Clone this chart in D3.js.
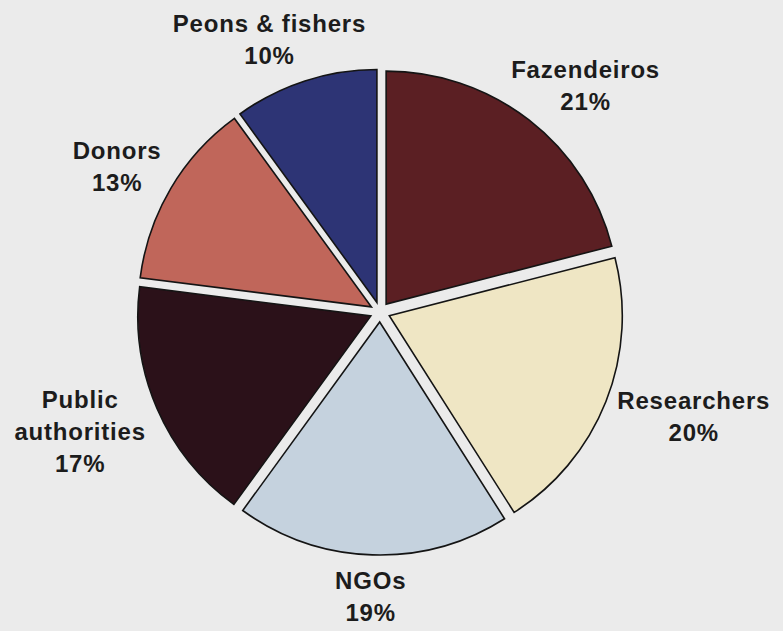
<!DOCTYPE html>
<html>
<head>
<meta charset="utf-8">
<script src="https://cdn.jsdelivr.net/npm/d3@7"></script>
<style>
  html, body { margin: 0; padding: 0; background: #ebebeb; }
  svg { display: block; }
  .lbl { font-family: "Liberation Sans", Arial, sans-serif; font-weight: bold; font-size: 24px; fill: #1c1c1c; letter-spacing: 0.8px; }
</style>
</head>
<body>
<svg id="chart" width="783" height="631"></svg>
<script>
// stakeholder shares, clockwise from 12 o'clock
var categories = ["Fazendeiros", "Researchers", "NGOs", "Public\nauthorities", "Donors", "Peons & fishers"];
var shares = [21, 20, 19, 17, 13, 10];
var colours = ["#5b1f23", "#efe6c4", "#c5d2de", "#2b1119", "#c0665a", "#2d3475"];

var width = 783, height = 631;
var cx = 380, cy = 312;
var radius = 233;
var explode = 10;
var labelPad = 18;
var lineH = 32;
var capH = 17;

var svg = d3.select("#chart");

var pie = d3.pie()
  .sort(null)
  .value(function(d) { return d; });

var arc = d3.arc()
  .innerRadius(0)
  .outerRadius(radius);

var arcs = pie(shares);

var g = svg.append("g").attr("transform", "translate(" + cx + "," + cy + ")");

g.selectAll("path.slice")
  .data(arcs)
  .enter()
  .append("path")
  .attr("class", "slice")
  .attr("d", arc)
  .attr("transform", function(d) {
    var a = (d.startAngle + d.endAngle) / 2;
    return "translate(" + (explode * Math.sin(a)) + "," + (-explode * Math.cos(a)) + ")";
  })
  .style("fill", function(d, i) { return colours[i]; })
  .style("stroke", "#141414")
  .style("stroke-width", 1.6)
  .style("stroke-linejoin", "miter");

// labels sit just outside each slice, pushed out by half their box
var labels = g.selectAll("text.lbl")
  .data(arcs)
  .enter()
  .append("text")
  .attr("class", "lbl")
  .attr("text-anchor", "middle");

labels.each(function(d, i) {
  var t = d3.select(this);
  var lines = categories[i].split("\n").concat([shares[i] + "%"]);
  lines.forEach(function(s, k) {
    t.append("tspan")
      .attr("x", 0)
      .attr("y", (k - (lines.length - 1) / 2) * lineH + 8)
      .text(s);
  });
  var w = 0;
  t.selectAll("tspan").each(function() { w = Math.max(w, this.getComputedTextLength()); });
  var h = (lines.length - 1) * lineH + capH;
  var a = (d.startAngle + d.endAngle) / 2;
  var rr = radius + explode + labelPad;
  var x = rr * Math.sin(a) + (w / 2) * Math.sin(a);
  var y = -rr * Math.cos(a) - (h / 2) * Math.cos(a);
  t.attr("transform", "translate(" + x + "," + y + ")");
});
</script>
</body>
</html>
